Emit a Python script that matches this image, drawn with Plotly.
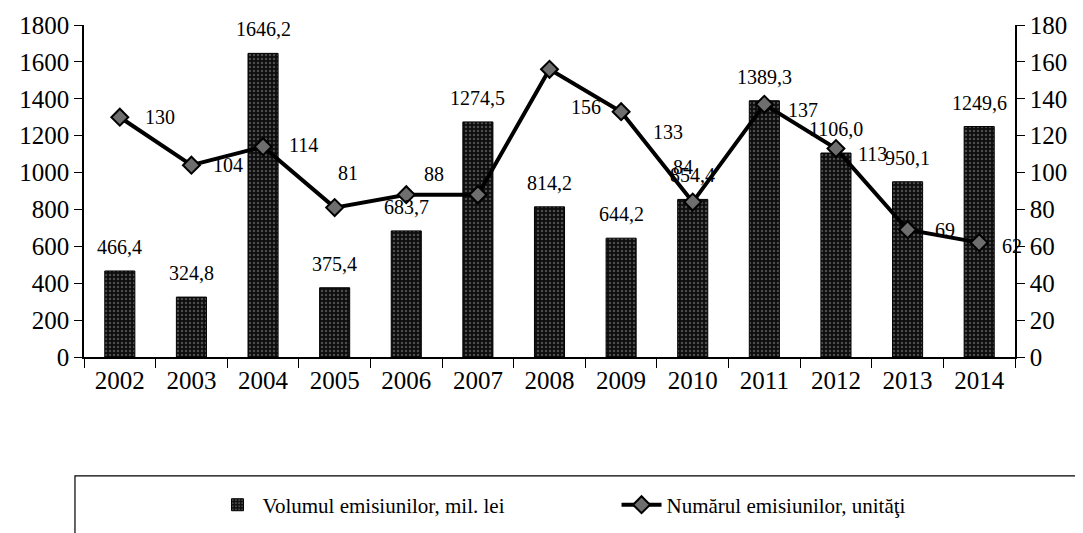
import plotly.graph_objects as go

years = [2002, 2003, 2004, 2005, 2006, 2007, 2008,
         2009, 2010, 2011, 2012, 2013, 2014]
volum = [466.4, 324.8, 1646.2, 375.4, 683.7, 1274.5, 814.2,
         644.2, 854.4, 1389.3, 1106.0, 950.1, 1249.6]
numar = [130, 104, 114, 81, 88, 88, 156, 133, 84, 137, 113, 69, 62]
volum_txt = [f"{v:.1f}".replace(".", ",") for v in volum]

# label offsets (px) for the line labels, as placed in the original
line_lbl_shift = [(40, 0), (37, 0), (40, 2), (13, 35), (28, 21), None,
                  (36, -38), (47, -20), (-10, 35), (39, -6), (37, -5),
                  (37, 0), (33, -3)]

FONT = "Times New Roman, Liberation Serif, serif"
tf = dict(family=FONT, size=25, color="#000")

fig = go.Figure()
fig.add_trace(go.Bar(
    x=years, y=volum, name="Volumul emisiunilor, mil. lei",
    width=0.42, showlegend=True,
    marker=dict(color="#0d0d0d", line=dict(color="#000000", width=1),
                pattern=dict(shape=".", fgcolor="#8a8a8a", bgcolor="#0d0d0d",
                             size=4, solidity=0.3)),
    legend="legend",
))
fig.add_trace(go.Scatter(
    x=years, y=numar, name="Numărul emisiunilor, unităţi",
    mode="lines+markers", yaxis="y2", showlegend=True,
    line=dict(color="#000000", width=4),
    marker=dict(symbol="diamond", size=13, color="#6e6e6e",
                line=dict(color="#000000", width=2)),
    legend="legend2",
))

ann = []
for yr, v, t in zip(years, volum, volum_txt):
    ann.append(dict(x=yr, y=v, text=t, showarrow=False, yanchor="bottom",
                    yshift=11, font=dict(family=FONT, size=20, color="#000")))
for yr, n, s in zip(years, numar, line_lbl_shift):
    if s is None:
        continue
    ann.append(dict(x=yr, y=n, yref="y2", text=str(n), showarrow=False,
                    xshift=s[0], yshift=s[1],
                    font=dict(family=FONT, size=20, color="#000")))

fig.update_layout(
    width=1083, height=533,
    margin=dict(l=76, r=76, t=17, b=184, autoexpand=False),
    paper_bgcolor="white", plot_bgcolor="white",
    font=dict(family=FONT, size=21, color="#000"),
    showlegend=True,
    xaxis=dict(range=[2001.5, 2014.5], tickvals=years, ticks="",
               showline=True, linecolor="#000", linewidth=1.5,
               showgrid=False, zeroline=False, tickfont=tf, tickangle=0,
               minor=dict(tick0=2001.5, dtick=1, ticks="outside", ticklen=9,
                          tickcolor="#000", showgrid=False)),
    yaxis=dict(range=[0, 1800], dtick=200, showline=True, linecolor="#000",
               linewidth=1.5, ticks="outside", ticklen=8, tickcolor="#000",
               showgrid=False, zeroline=False, tickfont=tf),
    yaxis2=dict(range=[0, 180], dtick=20, overlaying="y", side="right",
                showline=True, linecolor="#000", linewidth=1.5,
                ticks="outside", ticklen=8, tickcolor="#000",
                showgrid=False, zeroline=False, tickfont=tf),
    legend=dict(x=0.138, y=-0.446, xanchor="left", yanchor="middle",
                orientation="h", font=dict(family=FONT, size=21, color="#000"),
                itemwidth=40),
    legend2=dict(x=0.572, y=-0.446, xanchor="left", yanchor="middle",
                 orientation="h", font=dict(family=FONT, size=21, color="#000"),
                 itemwidth=40),
    annotations=ann,
    shapes=[dict(type="rect", xref="paper", yref="paper",
                 x0=-0.0097, x1=1.1, y0=-0.7, y1=-0.358,
                 line=dict(color="#000", width=1.2))],
)

fig.write_html("out.html")
